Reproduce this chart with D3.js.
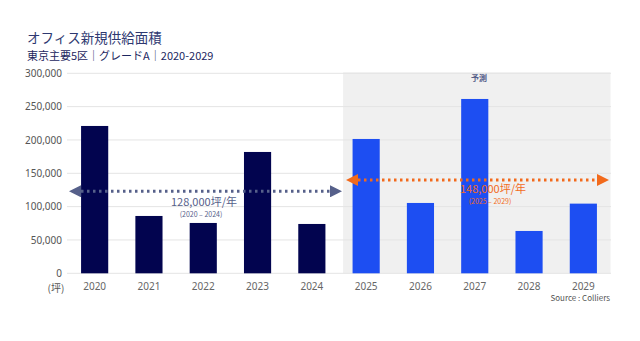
<!DOCTYPE html>
<html><head><meta charset="utf-8">
<script src="https://cdn.jsdelivr.net/npm/d3@7"></script>
<style>body{margin:0;background:#fff;font-family:"Noto Sans CJK JP","Noto Sans",sans-serif;}</style>
</head><body>
<svg id="c" width="640" height="341"></svg>
<script>
const years = ["2020","2021","2022","2023","2024","2025","2026","2027","2028","2029"];
const supply = [221000, 86000, 75500, 182000, 74000, 201500, 105500, 261500, 63500, 104500];
const forecastFlags = [false,false,false,false,false,true,true,true,true,true];
const yTicks = [0, 50000, 100000, 150000, 200000, 250000, 300000];
const avgLabels = ["128,000坪/年", "148,000坪/年"];
const avgPeriods = ["(2020 – 2024)", "(2025 – 2029)"];
const avgLevels = [123000, 140000];

const svg = d3.select("#c");
const x = d3.scaleBand().domain(years).range([67.5, 610.5]).paddingInner(0.5).paddingOuter(0.25);
const y = d3.scaleLinear().domain([0, 300000]).range([273.3, 73.3]);
const navy = "#02044f", blue = "#1d4ef2", orange = "#f26a1c", grayNavy = "#56608a";

// forecast shading
const shadeX = x("2025") - 9.5;
svg.append("rect").attr("x", shadeX).attr("y", y(300000) - 1)
  .attr("width", 610.5 - shadeX).attr("height", y(0) - y(300000) + 1).attr("fill", "#f0f0f0");

// gridlines
svg.append("g").selectAll("line").data(yTicks).join("line")
  .attr("x1", 67).attr("x2", 611).attr("y1", d=>y(d)).attr("y2", d=>y(d))
  .attr("stroke", "#e4e4e4").attr("stroke-width", 1);

// y axis labels
const ya = svg.append("g").attr("transform","translate(67,0)")
  .call(d3.axisLeft(y).tickValues(yTicks).tickSize(0).tickPadding(5).tickFormat(d3.format(",")));
ya.select(".domain").remove();
ya.selectAll("text").attr("fill","#555").style("font-size","10px").style("font-family","'Noto Sans',sans-serif");

// x axis labels
const xa = svg.append("g").attr("transform","translate(0,273.3)")
  .call(d3.axisBottom(x).tickSize(0).tickPadding(10));
xa.select(".domain").remove();
xa.selectAll("text").attr("fill","#666").style("font-size","10px").style("font-family","'Noto Sans',sans-serif");

svg.append("text").attr("x", 56).attr("y", 292).attr("text-anchor","middle").attr("fill","#555")
  .style("font-size","10px").text("(坪)");

// bars
svg.append("g").selectAll("rect").data(years).join("rect")
  .attr("x", d=>x(d)).attr("width", x.bandwidth())
  .attr("y", (d,i)=>y(supply[i])).attr("height", (d,i)=>y(0)-y(supply[i]))
  .attr("fill", (d,i)=>forecastFlags[i]?blue:navy);

// average arrows
const defs = svg.append("defs");
function marker(id, color){
  defs.append("marker").attr("id", id).attr("viewBox","0 0 10 10").attr("refX",5).attr("refY",5)
    .attr("markerWidth",4).attr("markerHeight",4).attr("orient","auto-start-reverse").attr("markerUnits","strokeWidth")
    .append("path").attr("d","M0,0L10,5L0,10z").attr("fill", color);
}
marker("mNavy", grayNavy); marker("mOrange", orange);
const arrowX = [[68, 343], [345, 610]];
const colors = [grayNavy, orange];
const markers = ["mNavy","mOrange"];
avgLevels.forEach((v,i)=>{
  svg.append("line").attr("x1", arrowX[i][0]+7).attr("x2", arrowX[i][1]-7)
    .attr("y1", y(v)).attr("y2", y(v)).attr("stroke", colors[i]).attr("stroke-width", 3)
    .attr("stroke-dasharray","2.5,3.5")
    .attr("marker-start",`url(#${markers[i]})`).attr("marker-end",`url(#${markers[i]})`);
});

// avg labels
const labelX = [204, 493];
const labelDy = [11, 9];
avgLabels.forEach((t,i)=>{
  svg.append("text").attr("x", labelX[i]).attr("y", y(avgLevels[i]) + labelDy[i] + 4)
    .attr("text-anchor","middle").attr("fill", colors[i]).style("font-size","11px").text(t);
  svg.append("text").attr("x", labelX[i]-3).attr("y", y(avgLevels[i]) + labelDy[i] + 15)
    .attr("text-anchor","middle").attr("fill", colors[i]).style("font-size","7px").text(avgPeriods[i]);
});

// forecast label
svg.append("text").attr("x", 479).attr("y", 81).attr("text-anchor","middle").attr("fill", grayNavy)
  .style("font-size","8px").style("font-weight","bold").text("予測");

// titles
svg.append("text").attr("x", 27).attr("y", 43).attr("fill","#2e3870").style("font-size","13.5px").text("オフィス新規供給面積");
svg.append("text").attr("x", 27).attr("y", 59.5).attr("fill","#1c2660").style("font-size","11px").text("東京主要5区｜グレードA｜2020-2029");

// source
svg.append("text").attr("x", 610).attr("y", 301).attr("text-anchor","end").attr("fill","#555")
  .style("font-size","8px").text("Source : Colliers");
</script>
</body></html>
